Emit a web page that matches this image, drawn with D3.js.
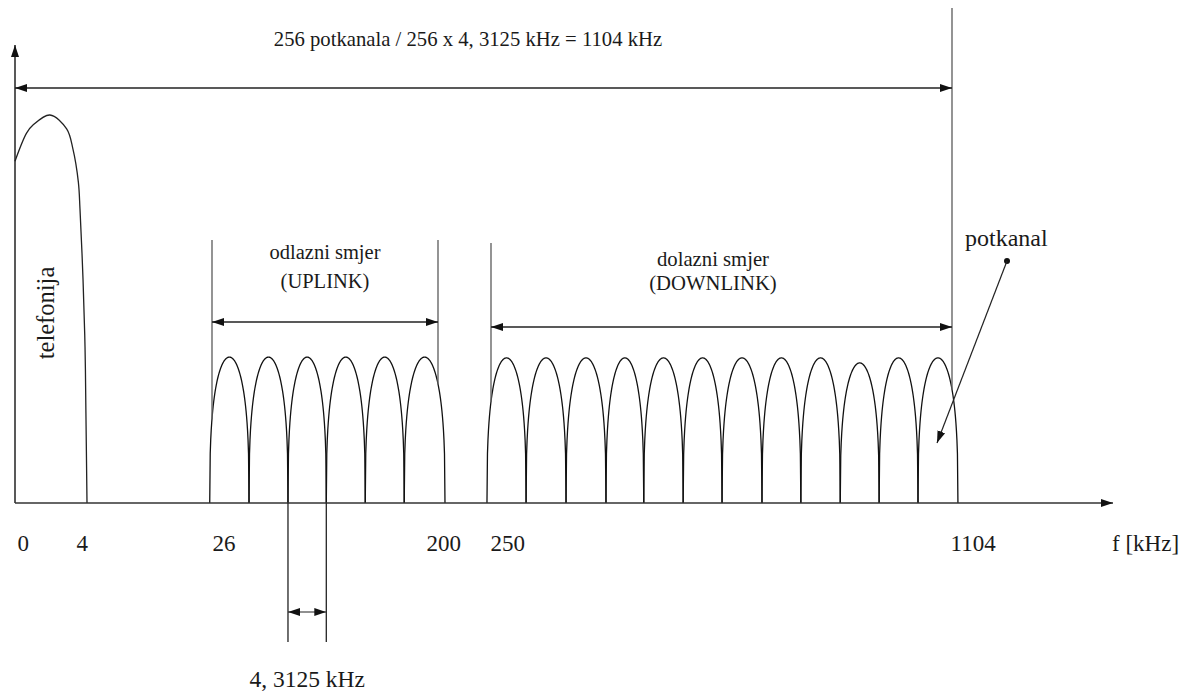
<!doctype html>
<html>
<head>
<meta charset="utf-8">
<script src="https://cdn.jsdelivr.net/npm/d3@7"></script>
<style>
body { margin: 0; background: #fff; }
svg text { font-family: "Liberation Serif", "Times New Roman", serif; fill: #1a1a1a; }
</style>
</head>
<body>
<svg width="1189" height="693"></svg>
<script>
// f axis ticks (kHz)
var tickValues = [0, 4, 26, 200, 250, 1104];
var tickLabels = ["0", "4", "26", "200", "250", "1104"];
var axisTitle = "f [kHz]";

// telephony band (kHz, relative level)
var phoneFreq  = [0, 0.65, 1.0, 1.94, 2.87, 3.22, 3.52, 3.61, 3.78, 3.89, 3.94, 4.0];
var phoneLevel = [88.1, 95.4, 97.4, 100, 96.4, 91.2, 82.7, 75.8, 57.5, 40.2, 23.2, 0];

// subchannel edges (kHz) and peak levels
var upEdges   = [25.6, 54.5, 84.5, 114, 144, 174, 206.6];
var upPeaks   = [37.6, 37.6, 37.6, 37.6, 37.6, 37.6];
var downEdges = [246.2, 315, 389, 463, 533, 606, 678, 752, 824, 897, 969, 1041, 1115];
var downPeaks = [37.4, 37.4, 37.4, 37.4, 37.4, 37.4, 37.4, 37.4, 37.4, 36.1, 37.4, 37.4];

// band limits
var upBand = [26, 200];
var downBand = [250, 1104];
var fullBand = [0, 1104];

var title = "256 potkanala / 256 x 4, 3125 kHz = 1104 kHz";
var upText = ["odlazni smjer", "(UPLINK)"];
var downText = ["dolazni smjer", "(DOWNLINK)"];
var phoneText = "telefonija";
var subText = "potkanal";
var spacingText = "4, 3125 kHz";

var svg = d3.select("svg");
var base = 503;

var x = d3.scaleLinear().domain(tickValues).range([15, 87, 212, 438, 491, 952]);
var y = d3.scaleLinear().domain([0, 100]).range([base, 115]);

// arrow heads
var defs = svg.append("defs");
function head(id, col) {
  defs.append("marker")
    .attr("id", id)
    .attr("markerUnits", "userSpaceOnUse")
    .attr("viewBox", "0 -5 12 10")
    .attr("refX", 12).attr("refY", 0)
    .attr("markerWidth", 12).attr("markerHeight", 10)
    .attr("orient", "auto-start-reverse")
    .append("path").attr("d", "M0,-4L12,0L0,4Z").attr("fill", col);
}
head("ah", "#111");

// subchannel list
var humps = [];
upPeaks.forEach(function(p, i) { humps.push({a: upEdges[i], b: upEdges[i + 1], p: p}); });
downPeaks.forEach(function(p, i) { humps.push({a: downEdges[i], b: downEdges[i + 1], p: p}); });

function shape(u) { return Math.pow(Math.max(0, 1 - u * u), 0.36); }

function humpPts(h) {
  var x0 = x(h.a), x1 = x(h.b), m = (x0 + x1) / 2, hw = (x1 - x0) / 2;
  return d3.range(0, 81).map(function(k) {
    var u = -1 + k / 40;
    return [m + u * hw, y(h.p * shape(u))];
  });
}

// y level where a vertical marker meets a hump
function meetY(px) {
  var best = base;
  humps.forEach(function(h) {
    var x0 = x(h.a), x1 = x(h.b);
    if (px > x0 && px < x1) {
      var u = (px - (x0 + x1) / 2) / ((x1 - x0) / 2);
      best = Math.min(best, y(h.p * shape(u)));
    }
  });
  return best;
}

var line = d3.line();

// subchannels
svg.append("g").selectAll("path")
  .data(humps)
  .enter().append("path")
  .attr("d", function(h) { return line(humpPts(h)); })
  .attr("fill", "none")
  .attr("stroke", "#111")
  .attr("stroke-width", 1.3);

// telephony
var phoneLine = d3.line()
  .x(function(d) { return x(d[0]); })
  .y(function(d) { return y(d[1]); })
  .curve(d3.curveCatmullRom.alpha(0.5));
svg.append("path")
  .attr("d", phoneLine(phoneFreq.map(function(f, i) { return [f, phoneLevel[i]]; })))
  .attr("fill", "none")
  .attr("stroke", "#222")
  .attr("stroke-width", 1.3);

// band marker verticals
var marks = [
  {f: upBand[0], top: 240}, {f: upBand[1], top: 240},
  {f: downBand[0], top: 243}, {f: downBand[1], top: 8}
];
svg.append("g").selectAll("line")
  .data(marks)
  .enter().append("line")
  .attr("x1", function(d) { return x(d.f); })
  .attr("x2", function(d) { return x(d.f); })
  .attr("y1", function(d) { return d.top; })
  .attr("y2", function(d) { return meetY(x(d.f)); })
  .attr("stroke", "#666")
  .attr("stroke-width", 1.4);

// axes
svg.append("line")
  .attr("x1", x(0)).attr("y1", base).attr("x2", x(0)).attr("y2", 45)
  .attr("stroke", "#222").attr("stroke-width", 1.5)
  .attr("marker-end", "url(#ah)");
svg.append("line")
  .attr("x1", x(0)).attr("y1", base).attr("x2", 1113).attr("y2", base)
  .attr("stroke", "#333").attr("stroke-width", 1.5)
  .attr("marker-end", "url(#ah)");

var ax = svg.append("g")
  .attr("transform", "translate(0," + base + ")")
  .call(d3.axisBottom(x).tickValues(tickValues)
    .tickFormat(function(d, i) { return tickLabels[i]; }).tickSize(0));
ax.select(".domain").remove();
var nudge = {"0": 2, "4": -11, "26": 0, "200": -12, "250": -1, "1104": -2};
ax.selectAll("text")
  .attr("y", 48).attr("dy", 0)
  .attr("dx", function(d, i) { return nudge[tickLabels[i]]; })
  .attr("text-anchor", "start")
  .attr("font-family", "Liberation Serif")
  .attr("font-size", 23)
  .attr("fill", "#1a1a1a");
svg.append("text")
  .attr("x", 1112).attr("y", 551)
  .attr("font-size", 23)
  .text(axisTitle);

// dimension arrows
function dim(a, b, yy) {
  svg.append("line")
    .attr("x1", a).attr("x2", b).attr("y1", yy).attr("y2", yy)
    .attr("stroke", "#222").attr("stroke-width", 1.4)
    .attr("marker-start", "url(#ah)").attr("marker-end", "url(#ah)");
}
dim(x(fullBand[0]), x(fullBand[1]), 88);
dim(x(upBand[0]), x(upBand[1]), 322);
dim(x(downBand[0]), x(downBand[1]), 327);

// subchannel spacing bracket
var sa = x(upEdges[2]), sb = x(upEdges[3]);
[sa, sb].forEach(function(px) {
  svg.append("line")
    .attr("x1", px).attr("x2", px).attr("y1", base).attr("y2", 642)
    .attr("stroke", "#222").attr("stroke-width", 1.3);
});
svg.append("line")
  .attr("x1", sa).attr("x2", sb).attr("y1", 612).attr("y2", 612)
  .attr("stroke", "#222").attr("stroke-width", 1.2)
  .attr("marker-start", "url(#ah)").attr("marker-end", "url(#ah)");
svg.append("text")
  .attr("x", (sa + sb) / 2).attr("y", 687)
  .attr("text-anchor", "middle").attr("font-size", 23.5)
  .text(spacingText);

// texts
svg.append("text")
  .attr("x", 468).attr("y", 46)
  .attr("text-anchor", "middle").attr("font-size", 20.7)
  .text(title);

svg.append("text")
  .attr("text-anchor", "middle").attr("font-size", 20.5)
  .selectAll("tspan").data(upText).enter().append("tspan")
  .attr("x", (x(upBand[0]) + x(upBand[1])) / 2)
  .attr("y", function(d, i) { return 259 + i * 29; })
  .text(function(d) { return d; });

svg.append("text")
  .attr("text-anchor", "middle").attr("font-size", 20.7)
  .selectAll("tspan").data(downText).enter().append("tspan")
  .attr("x", 713)
  .attr("y", function(d, i) { return 266 + i * 24; })
  .text(function(d) { return d; });

svg.append("text")
  .attr("transform", "translate(54,313) rotate(-90)")
  .attr("text-anchor", "middle").attr("font-size", 24.5)
  .text(phoneText);

svg.append("text")
  .attr("x", 965).attr("y", 246)
  .attr("font-size", 24)
  .text(subText);

// pointer to one subchannel
svg.append("circle").attr("cx", 1007).attr("cy", 261).attr("r", 3).attr("fill", "#111");
svg.append("line")
  .attr("x1", 1007).attr("y1", 261).attr("x2", 937).attr("y2", 443)
  .attr("stroke", "#222").attr("stroke-width", 1.2)
  .attr("marker-end", "url(#ah)");
</script>
</body>
</html>
